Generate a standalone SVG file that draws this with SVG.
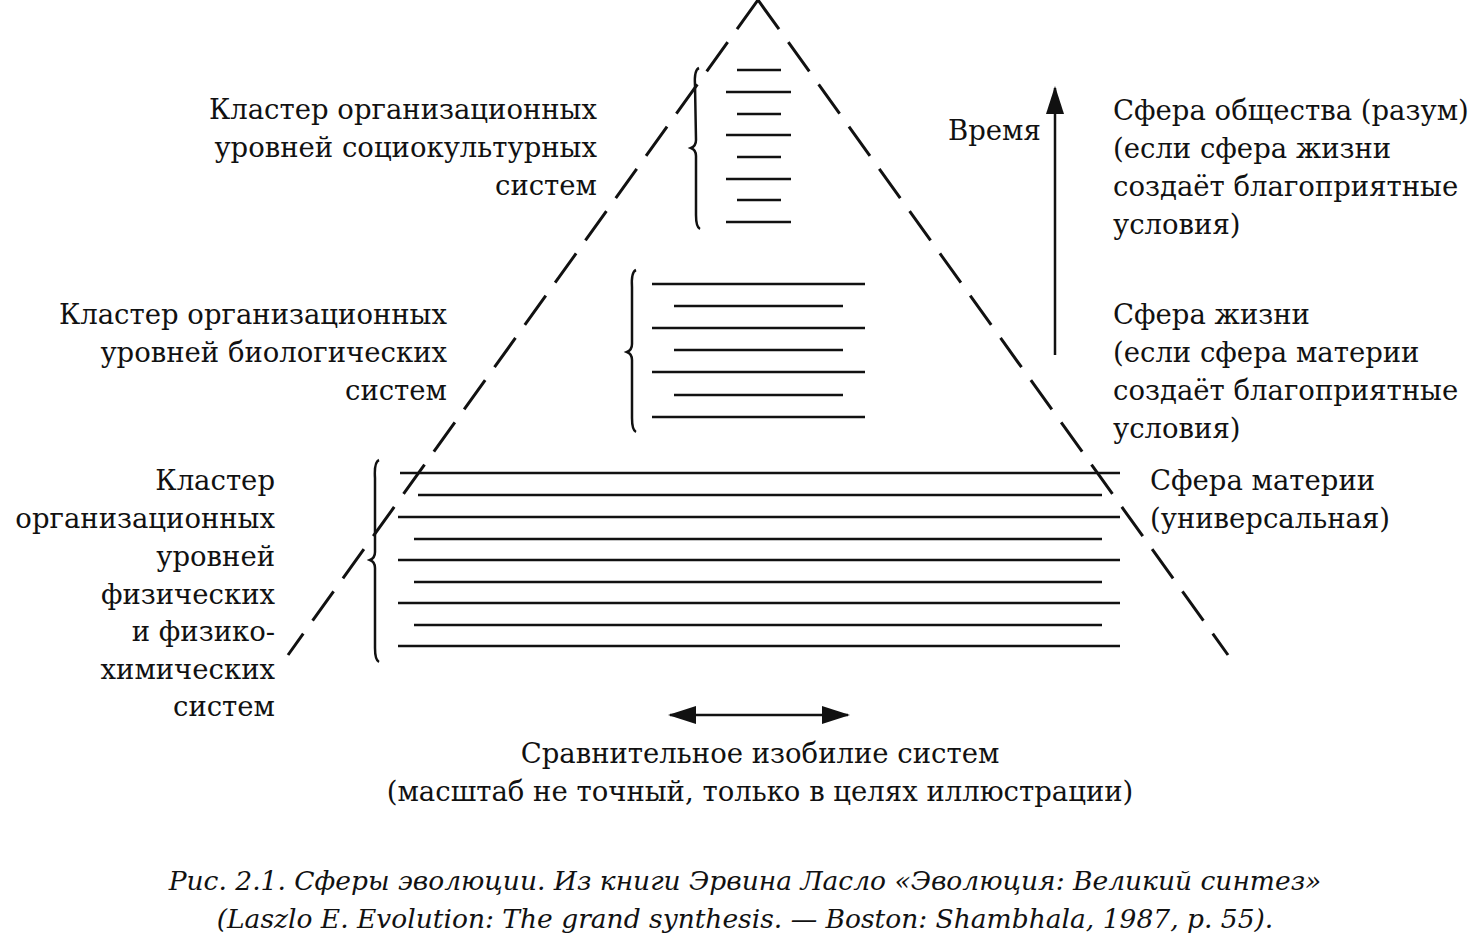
<svg xmlns="http://www.w3.org/2000/svg" width="1470" height="943" viewBox="0 0 1470 943">
<style>
text{font-family:"DejaVu Serif","Liberation Serif",serif;font-size:27.5px;fill:#111}
.e{text-anchor:end}.m{text-anchor:middle}
.c{font-style:italic;font-size:26.5px}
line,path{stroke:#111;stroke-width:2.5;fill:none}
.d{stroke-dasharray:36 16;stroke-width:3}
</style>
<defs>
<marker id="b" markerWidth="28" markerHeight="18" refX="26" refY="9" orient="auto-start-reverse" markerUnits="userSpaceOnUse"><path d="M0,0 L28,9 L0,18 Z" style="fill:#111;stroke:none"/></marker></defs>
<g id="connectors">
<line class="d" x1="758" y1="0" x2="288" y2="655"/>
<line class="d" x1="758" y1="0" x2="1228" y2="655"/>
<line x1="1055" y1="355" x2="1055" y2="88" marker-end="url(#b)"/>
<line x1="670" y1="715" x2="848" y2="715" marker-start="url(#b)" marker-end="url(#b)"/>
</g>
<g id="cluster-top">
<line x1="737" y1="70" x2="781" y2="70"/><line x1="726" y1="92" x2="791" y2="92"/>
<line x1="737" y1="114" x2="781" y2="114"/><line x1="726" y1="135" x2="791" y2="135"/>
<line x1="737" y1="157" x2="781" y2="157"/><line x1="726" y1="179" x2="791" y2="179"/>
<line x1="737" y1="200" x2="781" y2="200"/><line x1="726" y1="222" x2="791" y2="222"/>
<path d="M699,68 Q694,70 695,85 L696,140 Q696,146 691,148 Q696,150 696,156 L696,215 Q696,227 700,229"/>
<text class="e" x="597" y="119">Кластер организационных</text>
<text class="e" x="597" y="157">уровней социокультурных</text>
<text class="e" x="597" y="195">систем</text>
</g>
<g id="cluster-mid">
<line x1="652" y1="284" x2="865" y2="284"/><line x1="674" y1="306" x2="843" y2="306"/>
<line x1="652" y1="328" x2="865" y2="328"/><line x1="674" y1="350" x2="843" y2="350"/>
<line x1="652" y1="372" x2="865" y2="372"/><line x1="674" y1="395" x2="843" y2="395"/>
<line x1="652" y1="417" x2="865" y2="417"/>
<path d="M636,270 Q631,272 632,287 L632,344 Q632,350 627,352 Q632,354 632,360 L632,418 Q632,430 636,432"/>
<text class="e" x="447" y="324">Кластер организационных</text>
<text class="e" x="447" y="362">уровней биологических</text>
<text class="e" x="447" y="400">систем</text>
</g>
<g id="cluster-bottom">
<line x1="400" y1="473" x2="1120" y2="473"/><line x1="418" y1="495" x2="1102" y2="495"/>
<line x1="398" y1="517" x2="1120" y2="517"/><line x1="414" y1="539" x2="1102" y2="539"/>
<line x1="398" y1="560" x2="1120" y2="560"/><line x1="414" y1="582" x2="1102" y2="582"/>
<line x1="398" y1="603" x2="1120" y2="603"/><line x1="414" y1="625" x2="1102" y2="625"/>
<line x1="398" y1="646" x2="1120" y2="646"/>
<path d="M379,460 Q374,462 375,478 L375,552 Q375,558 370,560 Q375,562 375,568 L375,648 Q375,660 379,662"/>
<text class="e" x="275" y="490">Кластер</text>
<text class="e" x="275" y="528">организационных</text>
<text class="e" x="275" y="566">уровней</text>
<text class="e" x="275" y="604">физических</text>
<text class="e" x="275" y="641">и физико-</text>
<text class="e" x="275" y="679">химических</text>
<text class="e" x="275" y="716">систем</text>
</g>
<g id="labels-right">
<text x="948" y="140">Время</text>
<text x="1113" y="120">Сфера общества (разум)</text>
<text x="1113" y="158">(если сфера жизни</text>
<text x="1113" y="196">создаёт благоприятные</text>
<text x="1113" y="234">условия)</text>
<text x="1113" y="324">Сфера жизни</text>
<text x="1113" y="362">(если сфера материи</text>
<text x="1113" y="400">создаёт благоприятные</text>
<text x="1113" y="438">условия)</text>
<text x="1150" y="490">Сфера материи</text>
<text x="1150" y="528">(универсальная)</text>
</g>
<g id="bottom-label">
<text class="m" x="760" y="763">Сравнительное изобилие систем</text>
<text class="m" x="760" y="801">(масштаб не точный, только в целях иллюстрации)</text>
</g>
<g id="caption">
<text class="m c" x="745" y="890">Рис. 2.1. Сферы эволюции. Из книги Эрвина Ласло «Эволюция: Великий синтез»</text>
<text class="m c" x="745" y="928">(Laszlo E. Evolution: The grand synthesis. — Boston: Shambhala, 1987, p. 55).</text>
</g>
</svg>
